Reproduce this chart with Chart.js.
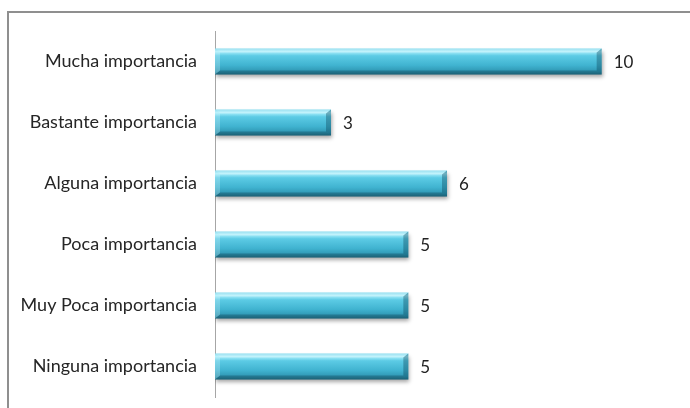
<!DOCTYPE html>
<html>
<head>
<meta charset="utf-8">
<script src="https://cdn.jsdelivr.net/npm/chart.js@4.4.1/dist/chart.umd.min.js"></script>
<style>
  html, body { margin: 0; padding: 0; background: #fff; overflow: hidden; }
  #wrap { position: relative; width: 690px; height: 408px; }
  #frame { position: absolute; left: 7px; top: 11px; width: 720px; height: 440px; border: 2px solid #8f8f8f; box-sizing: border-box; }
  canvas { position: absolute; left: 0; top: 0; }
</style>
</head>
<body>
<div id="wrap">
  <div id="frame"></div>
  <canvas id="chart" width="690" height="408"></canvas>
</div>
<script>
const categories = [
    'Mucha importancia',
    'Bastante importancia',
    'Alguna importancia',
    'Poca importancia',
    'Muy Poca importancia',
    'Ninguna importancia'
];
const values = [10, 3, 6, 5, 5, 5];
const axisMax = 12;

const BAR_PCT = 0.85, CAT_PCT = 0.5;

// gradient for the cylinder look, built per bar from the y scale
function barGradient(c) {
    const ys = c.chart.scales.y;
    if (!ys || c.dataIndex === undefined) return '#42b6d3';
    const step = Math.abs(ys.getPixelForValue(1) - ys.getPixelForValue(0));
    const h = step * BAR_PCT * CAT_PCT;
    const top = ys.getPixelForValue(c.dataIndex) - h / 2;
    if (!isFinite(top) || !isFinite(h) || h <= 0) return '#42b6d3';
    const g = c.chart.ctx.createLinearGradient(0, top, 0, top + h);
    g.addColorStop(0, '#6fd3ea');
    g.addColorStop(0.12, '#a9eefb');
    g.addColorStop(0.28, '#5ccbe5');
    g.addColorStop(0.65, '#40b3d0');
    g.addColorStop(0.88, '#2f97b3');
    g.addColorStop(1, '#23768d');
    return g;
}

const shadowPlugin = {
    id: 'barShadow',
    beforeDatasetDraw(chart) {
        const ctx = chart.ctx;
        ctx.save();
        ctx.shadowColor = 'rgba(0,0,0,0.35)';
        ctx.shadowBlur = 4;
        ctx.shadowOffsetX = 1;
        ctx.shadowOffsetY = 3;
    },
    afterDatasetDraw(chart) {
        chart.ctx.restore();
    }
};

const bevelPlugin = {
    id: 'bevel',
    afterDatasetsDraw(chart) {
        const ctx = chart.ctx;
        const meta = chart.getDatasetMeta(0);
        ctx.save();
        meta.data.forEach((bar, i) => {
            const top = bar.y - bar.height / 2;
            const bot = bar.y + bar.height / 2;
            const l = bar.base, r = bar.x, d = 5;
            const poly = (pts, color) => {
                ctx.beginPath();
                ctx.moveTo(pts[0][0], pts[0][1]);
                pts.slice(1).forEach(p => ctx.lineTo(p[0], p[1]));
                ctx.closePath();
                ctx.fillStyle = color;
                ctx.fill();
            };
            poly([[l, top], [r, top], [r - d, top + 4], [l + d, top + 4]], 'rgba(255,255,255,0.3)');
            poly([[l + d, bot - 4], [r - d, bot - 4], [r, bot], [l, bot]], 'rgba(10,50,65,0.3)');
            poly([[l, top], [l + d, top + 4], [l + d, bot - 4], [l, bot]], 'rgba(255,255,255,0.22)');
            poly([[r, top], [r, bot], [r - d, bot - 4], [r - d, top + 4]], 'rgba(10,60,80,0.35)');

            // value label
            ctx.fillStyle = '#222';
            ctx.font = '17px Lato';
            ctx.textAlign = 'left';
            ctx.textBaseline = 'middle';
            ctx.fillText(values[i], r + 12, bar.y + 1);
        });
        ctx.restore();
    }
};

new Chart(document.getElementById('chart'), {
    type: 'bar',
    data: {
        labels: categories,
        datasets: [{
            data: values,
            backgroundColor: barGradient,
            borderWidth: 0,
            barPercentage: BAR_PCT,
            categoryPercentage: CAT_PCT
        }]
    },
    options: {
        indexAxis: 'y',
        responsive: false,
        animation: false,
        layout: { padding: { top: 31, bottom: 11, left: 0, right: 11 } },
        plugins: { legend: { display: false }, tooltip: { enabled: false } },
        scales: {
            x: {
                display: false,
                min: 0,
                max: axisMax
            },
            y: {
                afterFit: (s) => {
                    s.width = 215;
                    s.paddingTop = 0;
                    s.paddingBottom = 0;
                },
                grid: { display: false, drawTicks: false },
                border: { display: true, color: '#a6a6a6', width: 1 },
                ticks: {
                    padding: 18,
                    color: '#262626',
                    font: { family: 'Lato', size: 18 }
                }
            }
        }
    },
    plugins: [shadowPlugin, bevelPlugin]
});
</script>
</body>
</html>
